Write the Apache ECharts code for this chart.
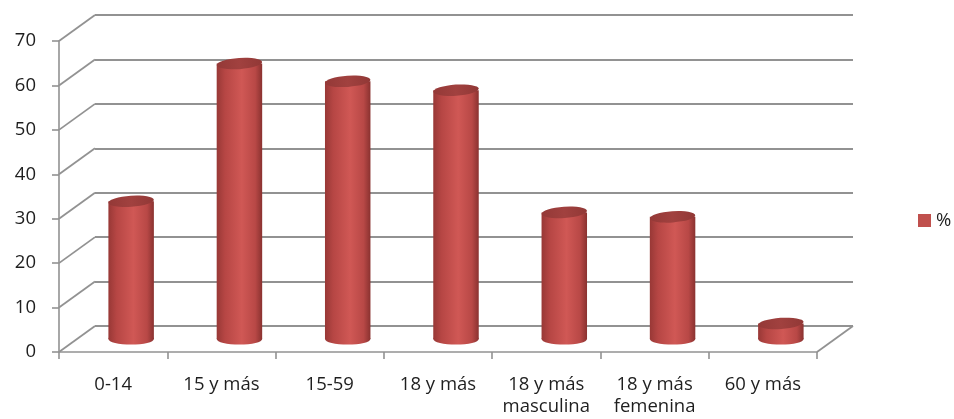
<!DOCTYPE html>
<html>
<head>
<meta charset="utf-8">
<script src="https://cdn.jsdelivr.net/npm/echarts@6/dist/echarts.min.js"></script>
<style>
  html, body { margin: 0; padding: 0; background: #ffffff; }
  #chart { width: 954px; height: 419px; }
</style>
</head>
<body>
<div id="chart"></div>
<script>
// Data
const categories = ['0-14', '15 y más', '15-59', '18 y más', '18 y más\nmasculina', '18 y más\nfemenina', '60 y más'];
const values = [31, 62, 58, 56, 28.5, 27.5, 3.5];
const seriesName = '%';
const yTicks = [0, 10, 20, 30, 40, 50, 60, 70];

// 3D wall geometry: the back wall is the front plane shifted by the depth offset
const DEPTH_X = 36;
const DEPTH_Y = 26;
const FRONT = { left: 59, top: 41, width: 758, height: 311 };
const BACK = { left: FRONT.left + DEPTH_X, top: FRONT.top - DEPTH_Y, width: FRONT.width, height: FRONT.height };
const BAR_WIDTH = 0.42;   // fraction of a category slot
const ELLIPSE_RY = 5.6;

const GRID_COLOR = '#929292';
const TEXT_COLOR = '#1e1e1e';
const FONT = '"Open Sans", sans-serif';
const FONT_SIZE = 18.5;

function bodyGradient() {
  return new echarts.graphic.LinearGradient(0, 0, 1, 0, [
    { offset: 0, color: '#983836' },
    { offset: 0.18, color: '#b64644' },
    { offset: 0.55, color: '#d05855' },
    { offset: 0.85, color: '#b84846' },
    { offset: 1, color: '#8a3230' }
  ]);
}

function topGradient() {
  return new echarts.graphic.LinearGradient(0, 0, 1, 0, [
    { offset: 0, color: '#943937' },
    { offset: 0.5, color: '#a1413f' },
    { offset: 1, color: '#913836' }
  ]);
}

const chart = echarts.init(document.getElementById('chart'), null, { renderer: 'canvas' });

const option = {
  animation: false,
  backgroundColor: '#ffffff',
  legend: {
    data: [{ name: seriesName, icon: 'rect' }],
    left: 918,
    top: 211,
    padding: 0,
    itemWidth: 13,
    itemHeight: 13,
    textStyle: { fontFamily: FONT, fontSize: FONT_SIZE, color: TEXT_COLOR }
  },
  grid: [
    // back wall
    { left: BACK.left, top: BACK.top, width: BACK.width, height: BACK.height, containLabel: false },
    // front plane (axes)
    { left: FRONT.left, top: FRONT.top, width: FRONT.width, height: FRONT.height, containLabel: false }
  ],
  xAxis: [
    {
      gridIndex: 0, type: 'value', min: 0, max: categories.length,
      show: false
    },
    {
      gridIndex: 1, type: 'category', data: categories,
      boundaryGap: true,
      axisLine: { show: true, lineStyle: { color: GRID_COLOR, width: 1.6 } },
      axisTick: { show: true, length: 7, alignWithLabel: false, lineStyle: { color: GRID_COLOR, width: 1.6 } },
      axisLabel: {
        interval: 0, margin: 22, fontFamily: FONT, fontSize: FONT_SIZE, lineHeight: 22,
        color: TEXT_COLOR, align: 'center', verticalAlign: 'top'
      },
      splitLine: { show: false }
    }
  ],
  yAxis: [
    {
      gridIndex: 0, type: 'value', min: 0, max: 70, interval: 10,
      axisLine: { show: false }, axisTick: { show: false }, axisLabel: { show: false },
      splitLine: { show: true, lineStyle: { color: GRID_COLOR, width: 1.8 } }
    },
    {
      gridIndex: 1, type: 'value', min: 0, max: 70, interval: 10,
      axisLine: { show: true, lineStyle: { color: GRID_COLOR, width: 1.6 } },
      axisTick: { show: true, length: 7, lineStyle: { color: GRID_COLOR, width: 1.6 } },
      axisLabel: { margin: 23, fontFamily: FONT, fontSize: FONT_SIZE, color: TEXT_COLOR },
      splitLine: { show: false }
    }
  ],
  series: [
    {
      // side-wall and floor edges linking the front axis to the back wall
      type: 'custom',
      name: 'walls',
      xAxisIndex: 0, yAxisIndex: 0,
      silent: true,
      z: 1,
      data: yTicks.map(v => [0, v]).concat([[categories.length, 0]]),
      renderItem: function (params, api) {
        const p = api.coord([api.value(0), api.value(1)]);
        return {
          type: 'line',
          shape: { x1: p[0] - DEPTH_X, y1: p[1] + DEPTH_Y, x2: p[0], y2: p[1] },
          style: { stroke: GRID_COLOR, lineWidth: 1.8 }
        };
      }
    },
    {
      // cylinders, centred halfway between the front plane and the back wall
      type: 'custom',
      name: seriesName,
      xAxisIndex: 0, yAxisIndex: 0,
      color: '#c0504d',
      itemStyle: { color: '#c0504d' },
      z: 3,
      data: values.map((v, i) => [i + 0.5, v]),
      renderItem: function (params, api) {
        const x = api.value(0);
        const v = api.value(1);
        const top = api.coord([x, v]);
        const base = api.coord([x, 0]);
        const cx = top[0] - DEPTH_X / 2;
        const ty = top[1] + DEPTH_Y / 2;
        const by = base[1] + DEPTH_Y / 2;
        const rx = api.size([BAR_WIDTH, 0])[0] / 2;
        const sy = ELLIPSE_RY / rx;
        return {
          type: 'group',
          children: [
            {
              type: 'circle', shape: { cx: 0, cy: 0, r: rx },
              x: cx, y: by, scaleY: sy,
              style: { fill: bodyGradient() }
            },
            {
              type: 'rect', shape: { x: cx - rx, y: ty, width: rx * 2, height: by - ty },
              style: { fill: bodyGradient() }
            },
            {
              type: 'circle', shape: { cx: 0, cy: 0, r: rx },
              x: cx, y: ty, scaleY: sy, rotation: 0.07,
              style: { fill: topGradient() }
            }
          ]
        };
      }
    }
  ]
};

chart.setOption(option);
</script>
</body>
</html>
